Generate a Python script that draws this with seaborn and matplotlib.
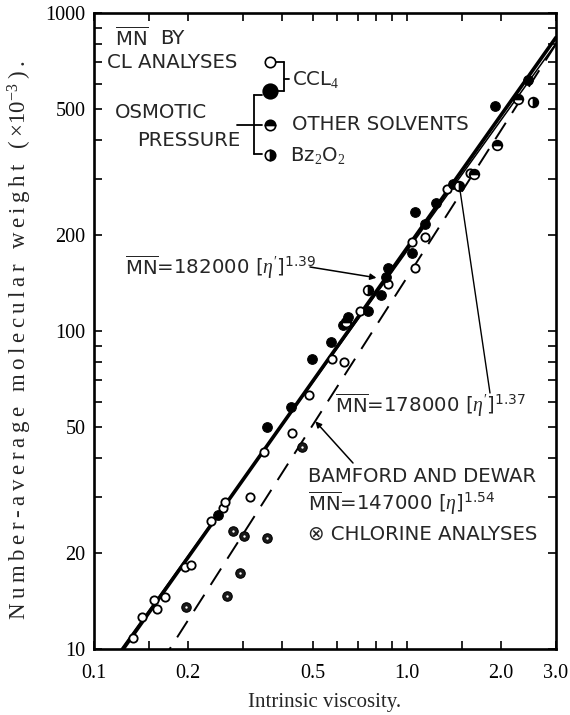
import numpy as np
import pandas as pd
import matplotlib
matplotlib.use("Agg")
import matplotlib.pyplot as plt
from matplotlib.lines import Line2D
from matplotlib.ticker import NullFormatter, FixedLocator
import seaborn as sns

# ---------------- data (units: x = [eta], y = Mn x 10^-3) ----
open_x = [0.133, 0.142, 0.155, 0.159, 0.169, 0.195, 0.204, 0.236, 0.259, 0.263, 0.315,
          0.350, 0.429, 0.488, 0.578, 0.630, 0.709, 0.873, 1.063, 1.040, 1.144, 1.342, 1.590]
open_y = [10.8, 12.6, 14.3, 13.4, 14.6, 18.1, 18.4, 25.3, 27.7, 29.0, 30.1,
          41.7, 47.9, 63.0, 81.5, 79.9, 116, 140.6, 158, 191, 197, 279, 315]

filled_x = [0.249, 0.357, 0.425, 0.497, 0.573, 0.627, 0.650, 0.753, 0.827, 0.873, 0.860,
            1.042, 1.144, 1.063, 1.240, 1.402, 1.914, 2.450]
filled_y = [26.4, 49.8, 57.8, 81.5, 92.5, 104.4, 111, 116, 130, 158, 148,
            176, 217, 237, 253, 290, 510, 615]

other_x = [0.640, 1.640, 2.270, 1.940]
other_y = [107, 311, 535, 385]

bz_x = [0.750, 1.470, 2.540]
bz_y = [135, 285, 526]

chl_x = [0.197, 0.266, 0.294, 0.278, 0.302, 0.357, 0.461]
chl_y = [13.6, 14.7, 17.4, 23.5, 22.7, 22.3, 43.3]

# fitted relations shown on the chart: Mn = coef * [eta]^exp (x10^-3)
fit_names = ["182000", "178000", "147000"]
fit_coef = [182.0, 178.0, 147.0]
fit_exp = [1.39, 1.37, 1.54]

x_ticks = [0.1, 0.2, 0.5, 1.0, 2.0, 3.0]
x_ticklabels = ["0.1", "0.2", "0.5", "1.0", "2.0", "3.0"]
x_minor = [0.15, 0.3, 0.4, 0.6, 0.7, 0.8, 0.9, 1.5]
y_ticks = [10, 20, 50, 100, 200, 500, 1000]
y_ticklabels = ["10", "20", "50", "100", "200", "500", "1000"]
y_minor = [30, 40, 60, 70, 80, 90, 300, 400, 600, 700, 800, 900]

# ---------------- style ----------------
sns.set_style("ticks")
plt.rcParams["font.family"] = ["DejaVu Sans"]
plt.rcParams["mathtext.fontset"] = "custom"
plt.rcParams["mathtext.rm"] = "Liberation Serif"
plt.rcParams["mathtext.it"] = "Liberation Serif:italic"
plt.rcParams["mathtext.sf"] = "DejaVu Sans"

W, H = 570, 715
fig = plt.figure(figsize=(W / 100, H / 100), dpi=100)
L, R, T, B = 94, 556, 13, 649
ax = fig.add_axes([L / W, 1 - B / H, (R - L) / W, (B - T) / H])


def fx(px):
    return px / W


def fy(py):
    return 1 - py / H


# ---------------- fitted lines ----------------
line_x = np.array([0.1, 3.0])
for i, (c, e) in enumerate(zip(fit_coef, fit_exp)):
    df = pd.DataFrame({"x": line_x, "y": c * line_x ** e})
    lw = [2.6, 1.1, 1.4][i]
    sns.lineplot(data=df, x="x", y="y", ax=ax, color="black", lw=lw)
    if i == 2:
        ax.lines[-1].set_dashes((10, 6))

# ---------------- points ----------------
sns.scatterplot(x=open_x, y=open_y, ax=ax, marker="o", s=36, facecolor="white",
                edgecolor="black", linewidth=1.3, zorder=5)
sns.scatterplot(x=filled_x, y=filled_y, ax=ax, marker="o", s=48, color="black",
                edgecolor="black", linewidth=0.8, zorder=5)
sns.scatterplot(x=chl_x, y=chl_y, ax=ax, marker="o", s=46, color="#1a1a1a",
                edgecolor="black", linewidth=0.8, zorder=5)
sns.scatterplot(x=chl_x, y=chl_y, ax=ax, marker="o", s=3, color="white",
                linewidth=0, zorder=6)
ax.plot(other_x, other_y, ls="none", marker="o", ms=7, fillstyle="top",
        markerfacecolor="black", markerfacecoloralt="white",
        markeredgecolor="black", mew=1.2, zorder=5)
ax.plot(bz_x, bz_y, ls="none", marker="o", ms=7, fillstyle="right",
        markerfacecolor="black", markerfacecoloralt="white",
        markeredgecolor="black", mew=1.2, zorder=5)

# ---------------- axes ----------------
ax.set_xscale("log")
ax.set_yscale("log")
ax.set_xlim(0.1, 3.0)
ax.set_ylim(10, 1000)
ax.xaxis.set_major_locator(FixedLocator(x_ticks))
ax.set_xticklabels(x_ticklabels)
ax.xaxis.set_minor_locator(FixedLocator(x_minor))
ax.xaxis.set_minor_formatter(NullFormatter())
ax.yaxis.set_major_locator(FixedLocator(y_ticks))
ax.set_yticklabels(y_ticklabels)
ax.yaxis.set_minor_locator(FixedLocator(y_minor))
ax.yaxis.set_minor_formatter(NullFormatter())
ax.set_xlabel("")
ax.set_ylabel("")
for sp in ax.spines.values():
    sp.set_visible(True)
    sp.set_linewidth(1.9)
    sp.set_color("black")
ax.tick_params(which="both", direction="in", top=True, right=True,
               color="black", width=1.2)
ax.tick_params(which="major", length=6)
ax.tick_params(which="minor", length=6)
ax.tick_params(axis="x", which="major", pad=11)
ax.tick_params(axis="y", which="major", pad=6)
for lab in ax.get_xticklabels() + ax.get_yticklabels():
    lab.set_fontfamily("Liberation Serif")
    lab.set_fontsize(14.5)
    lab.set_color("black")

SERIF = ["Liberation Serif", "DejaVu Serif"]
fig.text(fx(325), fy(703), "Intrinsic viscosity.", family=SERIF,
         fontsize=15, ha="center", va="center")


def spaced(s):
    # letter-spaced typesetting as in the original (thin spaces between letters)
    return "\u2009".join(s)


ylab = spaced("Number-average molecular weight (") + "\u2009" + \
    r"$\times10^{-3}$" + "\u2009" + spaced(").")
fig.text(fx(20), fy(340), ylab, family=SERIF, fontsize=16.5, ha="center",
         va="center", rotation=90)

# ---------------- lettering / legend ----------------
FS = 14.2
MN = r"$\overline{\mathsf{MN}}$"
fig.text(fx(115), fy(38), MN, fontsize=FS, va="center")
fig.text(fx(160), fy(38), "BY", fontsize=FS, va="center")
fig.text(fx(107), fy(62), "CL ANALYSES", fontsize=FS, va="center")
fig.text(fx(292), fy(80), r"CCL$_4$", fontsize=FS, va="center")
fig.text(fx(115), fy(112), "OSMOTIC", fontsize=FS, va="center")
fig.text(fx(137), fy(140), "PRESSURE", fontsize=FS, va="center")
fig.text(fx(292), fy(125), "OTHER SOLVENTS", fontsize=FS, va="center")
fig.text(fx(290), fy(155), r"Bz$_2$O$_2$", fontsize=FS, va="center")

lg = dict(transform=fig.transFigure, ls="none", marker="o",
          markeredgecolor="black", mew=1.2)
fig.add_artist(Line2D([fx(270)], [fy(62)], ms=7.5, markerfacecolor="white", **lg))
fig.add_artist(Line2D([fx(270)], [fy(91)], ms=10.5, markerfacecolor="black", **lg))
fig.add_artist(Line2D([fx(270)], [fy(125)], ms=7.5, fillstyle="top",
                      markerfacecolor="black", markerfacecoloralt="white", **lg))
fig.add_artist(Line2D([fx(270)], [fy(155)], ms=7.5, fillstyle="right",
                      markerfacecolor="black", markerfacecoloralt="white", **lg))


def seg(x0, y0, x1, y1, lw=1.3):
    fig.add_artist(Line2D([fx(x0), fx(x1)], [fy(y0), fy(y1)], color="black",
                          lw=lw, transform=fig.transFigure))


# CCl4 bracket
seg(276, 62, 284, 62)
seg(284, 62, 284, 91)
seg(277, 91, 284, 91)
seg(284, 79, 289, 79)
# osmotic bracket
seg(254, 95, 254, 154)
seg(254, 95, 262, 95)
seg(237, 125, 262, 125)
seg(254, 154, 262, 154)

# equations
fig.text(fx(125), fy(267), MN + r"=182000 [$\eta^{\prime}$]$^{\mathsf{1.39}}$",
         fontsize=FS, va="center")
fig.text(fx(335), fy(405), MN + r"=178000 [$\eta^{\prime}$]$^{\mathsf{1.37}}$",
         fontsize=FS, va="center")
fig.text(fx(308), fy(476), "BAMFORD AND DEWAR", fontsize=FS, va="center")
fig.text(fx(308), fy(503), MN + r"=147000 [$\eta$]$^{\mathsf{1.54}}$",
         fontsize=FS, va="center")
fig.text(fx(308), fy(534), "\u2297 CHLORINE ANALYSES", fontsize=FS, va="center")

arr = dict(arrowstyle="-|>", color="black", lw=1.1, mutation_scale=9,
           shrinkA=0, shrinkB=0)
ax.annotate("", xy=(0.80, 147), xytext=(fx(310), fy(267)),
            textcoords="figure fraction", arrowprops=arr)
ax.annotate("", xy=(1.47, 290), xytext=(fx(490), fy(393)),
            textcoords="figure fraction",
            arrowprops=dict(arrowstyle="-", color="black", lw=1.0,
                            shrinkA=0, shrinkB=0))
ax.annotate("", xy=(0.51, 52), xytext=(fx(353), fy(463)),
            textcoords="figure fraction", arrowprops=arr)

fig.savefig("out.png", dpi=100)
